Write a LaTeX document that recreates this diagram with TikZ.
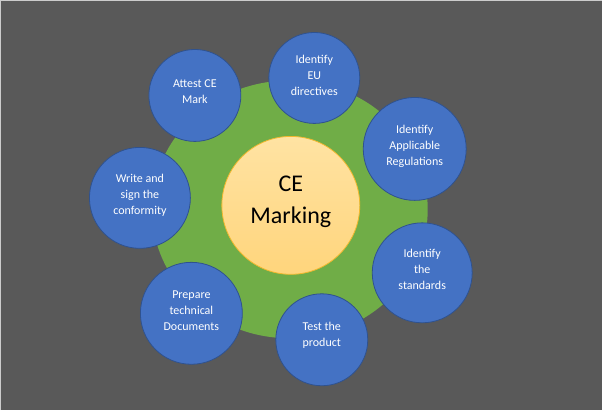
\documentclass[tikz,border=0pt]{standalone}
\usepackage{fontspec}
\setmainfont{Carlito}
\usepackage{xcolor}
\usetikzlibrary{shadings}

\definecolor{bggray}{HTML}{595959}
\definecolor{ringgreen}{HTML}{70AD47}
\definecolor{stepblue}{HTML}{4472C4}
\definecolor{stepline}{HTML}{2F528F}
\definecolor{hubtop}{HTML}{FFE3A3}
\definecolor{hubbottom}{HTML}{FFD57C}
\definecolor{hubline}{HTML}{F2B82E}

\tikzset{
	bubble/.style={circle, draw=stepline, line width=0.8pt, fill=stepblue, inner sep=0pt},
	bubbletext/.style={text=white, align=center, font=\fontsize{12}{16}\selectfont, inner sep=0pt}
}

\begin{document}
\begin{tikzpicture}[x=1pt,y=-1pt]

	% background
	\fill[bggray] (0,0) rectangle (602,410);
	\draw[gray!40, line width=0.8pt] (0.4,410) -- (0.4,0.4) -- (602,0.4);
	\useasboundingbox (0,0) rectangle (602,410);

	% green ring behind everything
	\fill[ringgreen] (290,209.5) ellipse [x radius=138, y radius=129];

	% hub
	\node[circle, draw=hubline, line width=0.8pt, top color=hubtop, bottom color=hubbottom,
		minimum size=138pt, inner sep=0pt] (hub) at (291,205.5) {};
	\node[align=center, font=\fontsize{24}{32}\selectfont, inner sep=0pt] (hubtext)
		at ([yshift=4pt]hub.center) {CE\\Marking};

	% steps
	\node[bubble, minimum size=91pt] (eu) at (314.5,78) {};
	\node[bubbletext] (eutext) at ([yshift=3pt]eu.center) {Identify\\EU\\directives};

	\node[bubble, minimum size=103pt] (regs) at (415,149) {};
	\node[bubbletext] (regstext) at ([yshift=3pt]regs.center) {Identify\\Applicable\\Regulations};

	\node[bubble, minimum size=100pt] (stds) at (422.5,273) {};
	\node[bubbletext] (stdstext) at ([yshift=3pt]stds.center) {Identify\\the\\standards};

	\node[bubble, minimum size=92pt] (test) at (322,340) {};
	\node[bubbletext] (testtext) at ([yshift=4pt]test.center) {Test the\\product};

	\node[bubble, minimum size=102pt] (docs) at (191.5,313.5) {};
	\node[bubbletext] (docstext) at ([yshift=3pt]docs.center) {Prepare\\technical\\Documents};

	\node[bubble, minimum size=101pt] (conf) at (140,198) {};
	\node[bubbletext] (conftext) at ([yshift=3pt]conf.center) {Write and\\sign the\\conformity};

	\node[bubble, minimum size=92pt] (attest) at (195,95.5) {};
	\node[bubbletext] (attesttext) at ([yshift=4pt]attest.center) {Attest CE\\Mark};

\end{tikzpicture}
\end{document}
